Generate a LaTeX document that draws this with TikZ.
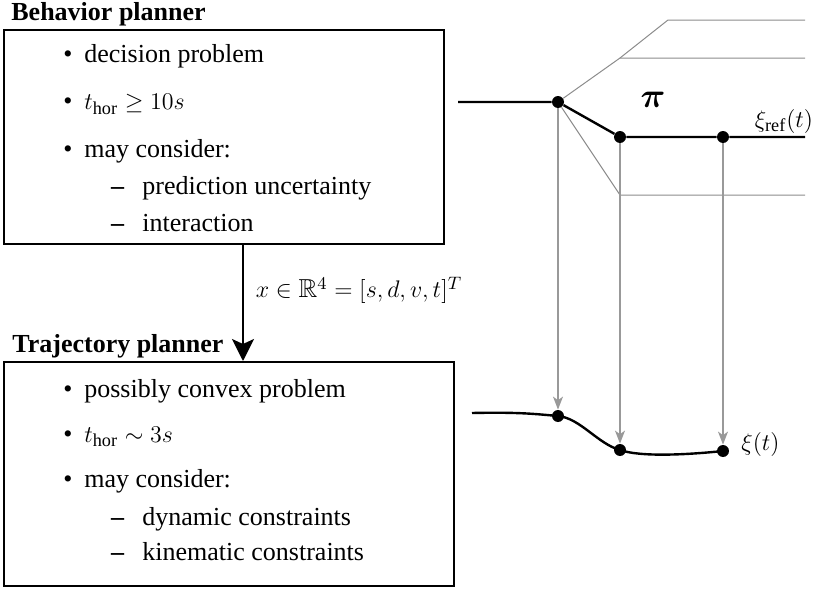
\documentclass[tikz,border=0pt]{standalone}
\usepackage{amsmath,amssymb}
\usepackage{fontspec}
\setmainfont{Liberation Serif}
\usetikzlibrary{positioning,arrows.meta,calc}

\begin{document}
\begin{tikzpicture}[x=0.5pt,y=-0.5pt,
  font=\fontsize{13}{15.6}\selectfont,
  box/.style={draw,line width=1pt,inner sep=0pt},
  head/.style={font=\fontsize{13}{15.6}\selectfont\bfseries,anchor=base west,inner sep=0pt},
  itemA/.style={anchor=base west,inner sep=0pt,execute at begin node={\llap{\textbullet\hspace{6pt}}}},
  itemB/.style={anchor=base west,inner sep=0pt,execute at begin node={\llap{\textbf{--}\hspace{9pt}}}},
  dot/.style={circle,fill=black,inner sep=0pt,minimum size=6pt},
  flow/.style={-{Stealth[length=11pt,width=11pt,inset=2.5pt]},line width=0.9pt},
  path/.style={line width=1.2pt},
  guide/.style={draw=black!45,line width=0.5pt},
  proj/.style={-{Stealth[length=6.5pt,width=5pt,inset=1.8pt]},draw=black!40,fill=black!40,line width=0.6pt}]
\useasboundingbox (0,0) rectangle (816,589);
% behavior planner
\node[box,minimum width=220pt,minimum height=107pt] (bp) at (224,137) {};
\node[head] (bphead) at (11,20) {Behavior planner};
\node[itemA] (bp1) at (84,62) {decision problem};
\node[itemA] (bp2) at (84,110) {$t_\mathrm{hor} \geq 10s$};
\node[itemA] (bp3) at (84,157) {may consider:};
\node[itemB] (bp4) at (142,194) {prediction uncertainty};
\node[itemB] (bp5) at (142,231) {interaction};
% trajectory planner
\node[box,minimum width=225pt,minimum height=112pt] (tp) at (229,474) {};
\node[head] (tphead) at (12,352) {Trajectory planner};
\node[itemA] (tp1) at (84,397) {possibly convex problem};
\node[itemA] (tp2) at (84,442) {$t_\mathrm{hor} \sim 3s$};
\node[itemA] (tp3) at (84,487) {may consider:};
\node[itemB] (tp4) at (142,525) {dynamic constraints};
\node[itemB] (tp5) at (142,560) {kinematic constraints};
\coordinate (ax) at (243,0);
\draw[flow] (bp.south -| ax) -- node[pos=0.39,right=6pt,inner sep=0pt] {$x \in \mathbb{R}^4 = [s,d,v,t]^T$} (tp.north -| ax);
% reference path
\coordinate (in) at (458,102);
\node[dot] (a) at (558,102) {};
\node[dot] (b) at (620,137) {};
\node[dot] (c) at (723,137) {};
\coordinate (refend) at (805,137);
\coordinate (g1) at (620,58);  \coordinate (g1e) at (805,58);
\coordinate (g2) at (668,20);  \coordinate (g2e) at (805,20);
\coordinate (g3) at (620,195); \coordinate (g3e) at (805,195);
\draw[guide] (a) -- (g1) -- (g1e);
\draw[guide] (g1) -- (g2) -- (g2e);
\draw[guide] (a) -- (g3) -- (g3e);
\draw[path] (in) -- (a) -- (b) -- (c) -- (refend);
\node[font=\fontsize{16}{18}\selectfont] (pi) at (653,100) {$\boldsymbol{\pi}$};
\node (xiref) at (784,121) {$\xi_\mathrm{ref}(t)$};
% trajectory
\coordinate (s) at (472,413);
\node[dot] (d) at (558,416) {};
\node[dot] (e) at (620,450) {};
\node[dot] (f) at (723,451) {};
\draw[path] (s) .. controls (520,412) and (535,414) .. (d.center)
  .. controls (580,418) and (598,444) .. (e.center)
  .. controls (640,457) and (685,455) .. (f.center);
\node[anchor=west,inner sep=0pt] (xi) at (741,444) {$\xi(t)$};
\draw[proj] (a) -- (d);
\draw[proj] (b) -- (e);
\draw[proj] (c) -- (f);
\end{tikzpicture}
\end{document}
